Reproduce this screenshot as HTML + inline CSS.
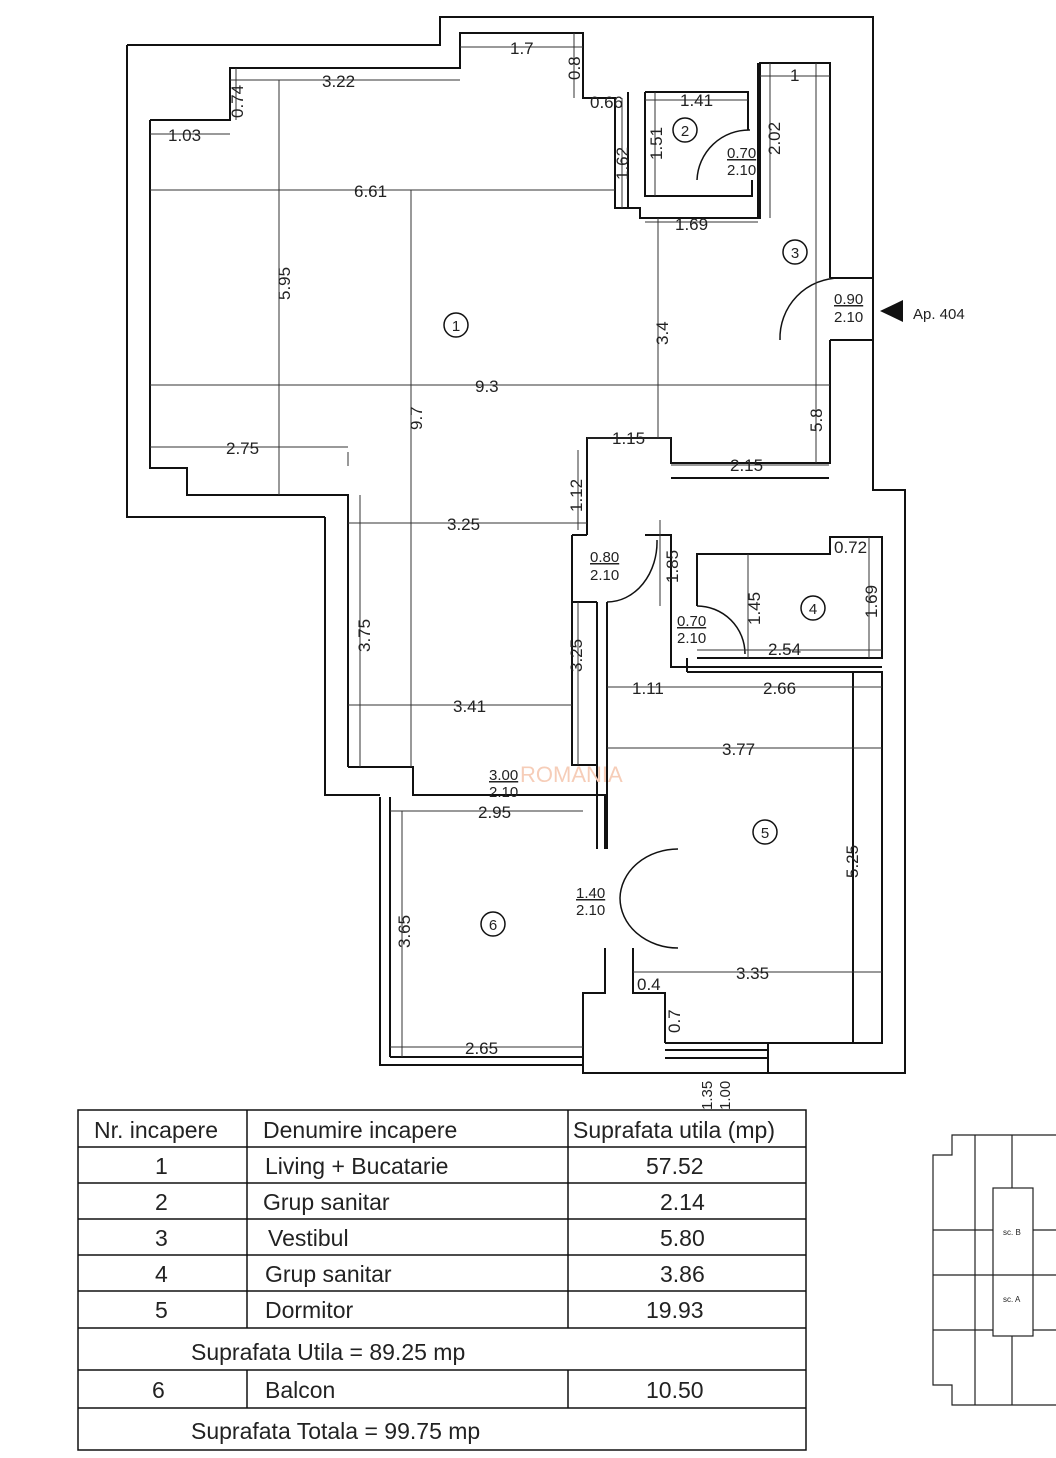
<!DOCTYPE html>
<html><head><meta charset="utf-8"><style>
html,body{margin:0;padding:0;background:#fff}
svg{display:block}
text{font-family:"Liberation Sans",sans-serif;fill:#222}
.d{font-size:17px}
</style></head><body>
<svg width="1056" height="1458" viewBox="0 0 1056 1458" xmlns="http://www.w3.org/2000/svg">
<g fill="none" stroke="#111" stroke-width="2">
<!-- outer outline -->
<polyline points="127,45 440,45 440,17 873,17 873,490 905,490 905,1073 583,1073 583,993 605,993 605,948"/>
<polyline points="605,849 605,795 413,795 413,767 348,767"/>
<polyline points="325,517 325,795 380,795"/>
<polyline points="127,45 127,517 325,517"/>
<!-- living inner -->
<polyline points="150,120 230,120 230,68 460,68 460,33 583,33 583,98 615,98 615,208 640,208 640,218 760,218 760,63 830,63 830,278"/>
<polyline points="830,340 830,463 671,463 671,438 587,438 587,535"/>
<line x1="671" y1="478" x2="829" y2="478"/>
<polyline points="150,120 150,468 187,468 187,495 348,495 348,767"/>
<!-- bathroom 2 -->
<polyline points="645,92 748,92 748,130"/>
<polyline points="645,92 645,196 752,196 752,180"/>
<polyline points="628,92 628,208"/>
<polyline points="758,63 758,218"/>
<polyline points="873,278 830,278"/><polyline points="873,340 830,340"/>
<!-- corridor -->
<polyline points="597,602 597,849"/>
<polyline points="607,602 607,849"/>
<polyline points="572,535 587,535"/>
<polyline points="572,535 572,765 597,765"/>
<polyline points="572,602 597,602"/>
<polyline points="645,535 671,535 671,667 882,667"/>
<!-- room 4 -->
<polyline points="697,606 697,554 830,554 830,537 882,537 882,658 697,658"/>
<polyline points="687,658 687,672"/>
<!-- room 5 -->
<polyline points="687,672 882,672 882,1043 665,1043"/>
<line x1="853" y1="672" x2="853" y2="1043"/>
<polyline points="633,948 633,993 665,993 665,1043"/>
<line x1="665" y1="1050" x2="768" y2="1050"/><line x1="665" y1="1058" x2="768" y2="1058"/>
<polyline points="768,1043 768,1073"/>
<!-- balcony -->
<polyline points="380,797 380,1065 583,1065"/>
<line x1="390" y1="797" x2="390" y2="1057"/>
<line x1="390" y1="1057" x2="583" y2="1057"/>
<!-- doors -->
<path d="M780,340 A60,60 0 0 1 840,278" stroke-width="1.5"/>
<path d="M697,180 A52,52 0 0 1 750,130" stroke-width="1.5"/>
<path d="M607,602 A50,60 0 0 0 657,540" stroke-width="1.5"/>
<path d="M697,606 A48,48 0 0 1 745,654" stroke-width="1.5"/>
<path d="M620,898 A58,50 0 0 1 678,849 M620,898 A58,50 0 0 0 678,948" stroke-width="1.5"/>
</g>
<!-- dimension lines -->
<g stroke="#333" stroke-width="1" fill="none">
<line x1="230" y1="80" x2="460" y2="80"/><line x1="150" y1="134" x2="230" y2="134"/>
<line x1="460" y1="47" x2="583" y2="47"/><line x1="150" y1="190" x2="615" y2="190"/>
<line x1="150" y1="385" x2="830" y2="385"/><line x1="150" y1="447" x2="348" y2="447"/>
<line x1="348" y1="523" x2="587" y2="523"/><line x1="348" y1="705" x2="572" y2="705"/>
<line x1="390" y1="811" x2="583" y2="811"/><line x1="390" y1="1047" x2="583" y2="1047"/>
<line x1="279" y1="80" x2="279" y2="495"/><line x1="411" y1="190" x2="411" y2="767"/>
<line x1="658" y1="218" x2="658" y2="438"/><line x1="816" y1="63" x2="816" y2="463"/>
<line x1="607" y1="687" x2="882" y2="687"/><line x1="607" y1="748" x2="882" y2="748"/>
<line x1="633" y1="972" x2="882" y2="972"/><line x1="660" y1="520" x2="660" y2="606"/>
<line x1="748" y1="554" x2="748" y2="658"/><line x1="697" y1="650" x2="882" y2="650"/>
<line x1="869" y1="537" x2="869" y2="658"/><line x1="578" y1="450" x2="578" y2="530"/>
<line x1="578" y1="602" x2="578" y2="765"/><line x1="360" y1="495" x2="360" y2="767"/>
<line x1="402" y1="811" x2="402" y2="1057"/><line x1="236" y1="68" x2="236" y2="120"/>
<line x1="574" y1="33" x2="574" y2="98"/><line x1="622" y1="98" x2="622" y2="208"/>
<line x1="655" y1="92" x2="655" y2="196"/><line x1="770" y1="63" x2="770" y2="218"/>
<line x1="645" y1="222" x2="758" y2="222"/><line x1="645" y1="100" x2="748" y2="100"/>
<line x1="760" y1="76" x2="830" y2="76"/><line x1="587" y1="438" x2="671" y2="438"/>
<line x1="671" y1="465" x2="829" y2="465"/><line x1="348" y1="452" x2="348" y2="466"/>
</g>
<g class="d">
<text x="322" y="87">3.22</text><text x="168" y="141">1.03</text><text x="510" y="54">1.7</text>
<text x="590" y="108">0.66</text><text x="680" y="106">1.41</text><text x="354" y="197">6.61</text>
<text x="675" y="230">1.69</text><text x="475" y="392">9.3</text><text x="226" y="454">2.75</text>
<text x="612" y="444">1.15</text><text x="730" y="471">2.15</text><text x="447" y="530">3.25</text>
<text x="453" y="712">3.41</text><text x="478" y="818">2.95</text><text x="465" y="1054">2.65</text>
<text x="632" y="694">1.11</text><text x="763" y="694">2.66</text><text x="722" y="755">3.77</text>
<text x="736" y="979">3.35</text><text x="637" y="990">0.4</text><text x="768" y="655">2.54</text>
<text x="834" y="553">0.72</text><text x="790" y="81">1</text>
</g>
<g class="d">
<text transform="translate(290,300) rotate(-90)">5.95</text>
<text transform="translate(422,430) rotate(-90)">9.7</text>
<text transform="translate(668,345) rotate(-90)">3.4</text>
<text transform="translate(822,432) rotate(-90)">5.8</text>
<text transform="translate(582,512) rotate(-90)">1.12</text>
<text transform="translate(582,672) rotate(-90)">3.25</text>
<text transform="translate(370,652) rotate(-90)">3.75</text>
<text transform="translate(410,948) rotate(-90)">3.65</text>
<text transform="translate(858,878) rotate(-90)">5.25</text>
<text transform="translate(243,118) rotate(-90)">0.74</text>
<text transform="translate(580,80) rotate(-90)">0.8</text>
<text transform="translate(628,180) rotate(-90)">1.62</text>
<text transform="translate(662,160) rotate(-90)">1.51</text>
<text transform="translate(780,155) rotate(-90)">2.02</text>
<text transform="translate(678,583) rotate(-90)">1.85</text>
<text transform="translate(760,625) rotate(-90)">1.45</text>
<text transform="translate(877,618) rotate(-90)">1.69</text>
<text transform="translate(680,1033) rotate(-90)">0.7</text>
<text transform="translate(712,1110) rotate(-90)" font-size="15">1.35</text>
<text transform="translate(730,1110) rotate(-90)" font-size="15">1.00</text>
</g>
<g font-size="15">
<text x="727" y="158" text-decoration="underline">0.70</text><text x="727" y="175">2.10</text>
<text x="834" y="304" text-decoration="underline">0.90</text><text x="834" y="322">2.10</text>
<text x="590" y="562" text-decoration="underline">0.80</text><text x="590" y="580">2.10</text>
<text x="677" y="626" text-decoration="underline">0.70</text><text x="677" y="643">2.10</text>
<text x="489" y="780" text-decoration="underline">3.00</text><text x="489" y="797">2.10</text>
<text x="576" y="898" text-decoration="underline">1.40</text><text x="576" y="915">2.10</text>
<text x="913" y="319">Ap.  404</text>
</g>
<polygon points="880,311 903,300 903,322" fill="#111"/>
<g fill="none" stroke="#111" stroke-width="1.5">
<circle cx="456" cy="325" r="12"/><circle cx="685" cy="130" r="12"/><circle cx="795" cy="252" r="12"/>
<circle cx="813" cy="608" r="12"/><circle cx="765" cy="832" r="12"/><circle cx="493" cy="924" r="12"/>
</g>
<g font-size="15" text-anchor="middle">
<text x="456" y="331">1</text><text x="685" y="136">2</text><text x="795" y="258">3</text>
<text x="813" y="614">4</text><text x="765" y="838">5</text><text x="493" y="930">6</text>
</g>
<text x="520" y="782" font-size="22" fill="#f3c7b0" style="fill:#f6cdb8">ROMANIA</text>
<!-- table -->
<g stroke="#111" stroke-width="1.5" fill="none">
<rect x="78" y="1110" width="728" height="340"/>
<line x1="78" y1="1147" x2="806" y2="1147"/><line x1="78" y1="1183" x2="806" y2="1183"/>
<line x1="78" y1="1219" x2="806" y2="1219"/><line x1="78" y1="1255" x2="806" y2="1255"/>
<line x1="78" y1="1291" x2="806" y2="1291"/><line x1="78" y1="1328" x2="806" y2="1328"/>
<line x1="78" y1="1370" x2="806" y2="1370"/><line x1="78" y1="1408" x2="806" y2="1408"/>
<line x1="247" y1="1110" x2="247" y2="1328"/><line x1="568" y1="1110" x2="568" y2="1328"/>
<line x1="247" y1="1370" x2="247" y2="1408"/><line x1="568" y1="1370" x2="568" y2="1408"/>
</g>
<g font-size="23">
<text x="94" y="1138">Nr. incapere</text><text x="263" y="1138">Denumire incapere</text><text x="573" y="1138">Suprafata utila (mp)</text>
<text x="155" y="1174">1</text><text x="265" y="1174">Living + Bucatarie</text><text x="646" y="1174">57.52</text>
<text x="155" y="1210">2</text><text x="263" y="1210">Grup sanitar</text><text x="660" y="1210">2.14</text>
<text x="155" y="1246">3</text><text x="268" y="1246">Vestibul</text><text x="660" y="1246">5.80</text>
<text x="155" y="1282">4</text><text x="265" y="1282">Grup sanitar</text><text x="660" y="1282">3.86</text>
<text x="155" y="1318">5</text><text x="265" y="1318">Dormitor</text><text x="646" y="1318">19.93</text>
<text x="191" y="1360">Suprafata Utila =  89.25 mp</text>
<text x="152" y="1398">6</text><text x="265" y="1398">Balcon</text><text x="646" y="1398">10.50</text>
<text x="191" y="1439">Suprafata Totala =  99.75 mp</text>
</g>
<!-- mini plan -->
<g stroke="#222" stroke-width="1.2" fill="none">
<polyline points="1056,1135 952,1135 952,1155 933,1155 933,1385 952,1385 952,1405 1056,1405"/>
<rect x="993" y="1188" width="40" height="148"/>
<line x1="975" y1="1135" x2="975" y2="1405"/><line x1="1012" y1="1135" x2="1012" y2="1188"/>
<line x1="933" y1="1230" x2="993" y2="1230"/><line x1="933" y1="1275" x2="1056" y2="1275"/>
<line x1="933" y1="1330" x2="993" y2="1330"/><line x1="1033" y1="1230" x2="1056" y2="1230"/>
<line x1="1033" y1="1330" x2="1056" y2="1330"/><line x1="1012" y1="1336" x2="1012" y2="1405"/>
</g>
<text x="1003" y="1235" font-size="8">sc. B</text><text x="1003" y="1302" font-size="8">sc. A</text>
</svg>
</body></html>
